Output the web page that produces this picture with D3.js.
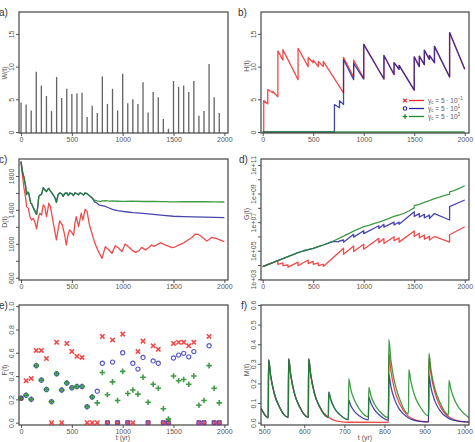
<!DOCTYPE html>
<html>
<head>
<meta charset="utf-8">
<script src="https://cdnjs.cloudflare.com/ajax/libs/d3/7.8.5/d3.min.js"></script>
<style>
	body { margin: 0; background: #fff; }
	svg { font-family: "Liberation Sans", Arial, sans-serif; }
</style>
</head>
<body>
<svg id="chart" width="475" height="442"></svg>
<script>
// event times (yr)
var times = [0,50,100,150,200,250,300,350,400,450,500,550,600,650,700,750,800,850,900,950,
	1000,1050,1100,1150,1200,1250,1300,1350,1400,1450,1500,1550,1600,1650,1700,1750,1800,1850,1900,1950];

// a) W(t)
var wValues = [4.5,4.2,3.3,9.2,7.1,5.5,3.2,8.4,5.2,6.6,5.8,5.9,6.0,2.3,4.0,2.9,8.5,4.3,6.6,3.3,
	8.9,4.4,5.0,4.3,7.6,3.0,6.1,5.3,2.0,0.5,7.8,6.9,7.1,6.1,7.8,2.5,3.2,10.4,5.3,2.9];

// b) H(t)
var hRed = [[0,0],[10,0],[10,4.8],[50,4.3],[50,6.5],[100,6.0],[100,6.2],[150,5.4],[150,12.4],[200,11.0],[200,12.6],
	[350,8.0],[350,12.8],[450,10.0],[450,11.4],[500,10.6],[500,11.0],[550,10.0],[550,10.8],[600,10.0],[600,10.8],
	[800,6.0],[800,11.4],[900,8.4],[900,11.0],[1000,8.2],[1000,13.4],[1200,8.1],[1200,11.7],[1300,8.8],[1300,10.6],
	[1350,9.6],[1350,10.2],[1500,6.4],[1500,11.5],[1550,10.0],[1550,11.6],[1600,10.3],[1600,12.5],[1650,11.1],
	[1650,11.7],[1700,10.6],[1700,13.1],[1850,8.4],[1850,15.2],[2000,9.6]];
var hBlue = [[0,0],[710,0],[710,4.2],[760,3.7],[760,4.8],[800,4.2],[800,11.1],[900,8.0],[900,10.5],[1000,8.1],
	[1000,13.4],[1200,8.1],[1200,11.7],[1300,8.8],[1300,10.6],[1350,9.6],[1350,10.2],[1500,6.4],[1500,11.5],
	[1550,10.0],[1550,11.6],[1600,10.3],[1600,12.5],[1650,11.1],[1650,11.7],[1700,10.6],[1700,13.1],[1850,8.4],
	[1850,15.2],[2000,9.6]];
var hGreen = [[0,0],[2000,0]];

// c) D(t)
var dRed = [[0,1969],[13,1812],[29,1655],[46,1536],[55,1438],[72,1418],[88,1320],[104,1280],[120,1300],[137,1253],
	[153,1175],[169,1300],[185,1360],[202,1340],[218,1458],[234,1438],[250,1320],[260,1380],[273,1478],[289,1438],
	[315,1261],[348,1045],[364,1163],[380,1270],[406,1222],[429,1104],[445,986],[462,1104],[478,1163],[494,1143],
	[517,1100],[530,1238],[543,1320],[566,1202],[592,1360],[608,1280],[631,1407],[650,1380],[673,1222],[722,1025],
	[754,926],[797,828],[829,966],[862,930],[894,887],[927,978],[959,950],[992,907],[1024,997],[1063,960],
	[1096,920],[1128,899],[1161,920],[1187,958],[1210,940],[1226,927],[1259,960],[1285,986],[1307,970],[1340,990],
	[1372,1013],[1421,985],[1454,970],[1486,954],[1519,965],[1551,985],[1600,1010],[1649,1050],[1681,1075],
	[1714,1115],[1746,1110],[1779,1080],[1828,1033],[1850,1050],[1876,1076],[1925,1060],[1967,1040],[2000,1025]];
var dGreen = [[0,1969],[10,1880],[20,1820],[30,1780],[45,1680],[55,1580],[65,1610],[75,1600],[85,1540],[95,1480],
	[105,1470],[115,1440],[130,1400],[153,1345],[165,1440],[175,1560],[185,1575],[200,1580],[210,1620],[218,1662],
	[232,1640],[250,1615],[262,1640],[273,1654],[290,1620],[315,1580],[335,1540],[348,1490],[364,1576],[380,1600],
	[400,1590],[415,1560],[430,1595],[450,1600],[465,1570],[480,1600],[500,1590],[515,1570],[530,1600],[550,1590],
	[565,1578],[580,1600],[600,1590],[615,1575],[630,1600],[650,1590],[670,1570],[700,1540],[722,1515],[750,1505],
	[780,1497],[800,1505],[830,1510],[870,1504],[900,1505],[950,1502],[1000,1500],[1100,1503],[1200,1499],
	[1300,1500],[1400,1498],[1500,1495],[1600,1497],[1700,1496],[1800,1496],[1900,1495],[2000,1493]];
var dBlue = [[0,1969],[10,1880],[20,1820],[30,1780],[45,1680],[55,1580],[65,1610],[75,1600],[85,1540],[95,1480],
	[105,1470],[115,1440],[130,1400],[153,1345],[165,1440],[175,1560],[185,1575],[200,1580],[210,1620],[218,1662],
	[232,1640],[250,1615],[262,1640],[273,1654],[290,1620],[315,1580],[335,1540],[348,1490],[364,1576],[380,1600],
	[400,1590],[415,1560],[430,1595],[450,1600],[465,1570],[480,1600],[500,1590],[515,1570],[530,1600],[550,1590],
	[565,1578],[580,1600],[600,1590],[615,1575],[630,1600],[650,1590],[670,1570],[700,1540],[722,1497],[750,1478],
	[770,1455],[797,1450],[830,1440],[860,1425],[900,1405],[950,1390],[1000,1382],[1050,1375],[1100,1368],
	[1200,1358],[1300,1348],[1400,1336],[1500,1325],[1600,1321],[1700,1317],[1800,1314],[1900,1311],[2000,1308]];

// d) G(t), log10 values
var gRed = [[0,3.89],[50,4.02],[100,4.17],[150,4.3],[150,4.05],[200,4.15],[200,3.95],[250,4.0],[250,3.85],
	[350,4.2],[350,3.95],[450,4.35],[450,4.1],[500,4.25],[500,4.05],[550,4.15],[550,3.95],[600,4.05],[600,3.9],
	[800,5.17],[800,4.75],[900,5.33],[900,4.95],[1000,5.45],[1000,5.1],[1150,5.87],[1150,5.55],[1200,5.85],
	[1200,5.5],[1300,5.98],[1300,5.7],[1350,5.9],[1350,5.6],[1500,6.38],[1500,6.0],[1550,6.22],[1550,5.9],
	[1600,6.1],[1600,5.8],[1650,6.0],[1650,5.75],[1700,6.0],[1850,5.6],[1850,6.12],[2000,6.68]];
var gBlue = [[0,3.89],[50,4.02],[100,4.17],[150,4.3],[200,4.45],[250,4.58],[300,4.73],[350,4.86],[400,4.98],
	[450,5.07],[500,5.17],[550,5.28],[600,5.4],[650,5.53],[700,5.65],[750,5.62],[760,5.68],[800,5.75],[800,5.6],
	[900,6.15],[900,5.95],[1000,6.4],[1000,6.2],[1150,6.75],[1150,6.55],[1200,6.85],[1200,6.65],[1300,7.0],
	[1300,6.8],[1350,7.0],[1350,6.85],[1500,7.73],[1500,7.4],[1550,7.6],[1550,7.35],[1600,7.55],[1600,7.3],
	[1650,7.5],[1650,7.25],[1700,7.6],[1850,7.15],[1850,8.08],[2000,8.55]];
var gGreen = [[0,3.89],[50,4.02],[100,4.17],[150,4.3],[200,4.45],[250,4.58],[300,4.73],[350,4.86],[400,4.98],
	[450,5.07],[500,5.17],[550,5.28],[600,5.4],[650,5.53],[700,5.68],[750,5.85],[800,6.02],[850,6.2],[900,6.37],
	[950,6.53],[1000,6.68],[1050,6.78],[1100,6.9],[1150,7.0],[1200,7.13],[1250,7.26],[1300,7.4],[1350,7.5],
	[1400,7.62],[1450,7.8],[1500,8.0],[1500,8.15],[1550,8.25],[1600,8.38],[1650,8.5],[1700,8.65],[1750,8.75],
	[1800,8.88],[1850,8.95],[1850,9.12],[1900,9.22],[1950,9.38],[2000,9.55]];

// e) F(t) at event times
var fRed = [0.21,0.36,0.38,0.62,0.62,0.55,0,0.69,0,0.68,0.61,0.57,0.56,0,0,0,0.74,0,0.71,0,
	0.76,0,0,0.61,0.70,0,0.66,0.63,0,0,0.68,0.69,0.69,0.66,0.69,0,0,0.74,0,0];
var fBlue = [0.21,0.235,0.20,0.49,0.365,0.285,0.18,0.42,0.28,0.34,0.30,0.31,0.31,0.137,0.22,0.27,0.51,0,0.52,0,
	0.60,0,0.51,0.46,0.56,0,0.53,0.51,0,0,0.555,0.58,0.595,0.565,0.61,0,0,0.66,0,0];
var fGreen = [0.21,0.235,0.20,0.49,0.365,0.285,0.18,0.42,0.28,0.34,0.30,0.31,0.31,0.137,0.22,0.17,0.43,0.24,0.35,0.19,
	0.44,0.25,0.28,0.245,0.39,0.175,0.33,0.295,0.12,0.03,0.40,0.36,0.37,0.33,0.40,0.15,0.19,0.49,0.295,0.17];

// f) M(t), 500-1000 yr
var mRed = [[492,0.073],[510,0.025],[511,0.32],[516,0.24],[525,0.15],[538,0.08],[560,0.027],[561,0.325],[566,0.245],
	[575,0.152],[588,0.082],[610,0.027],[611,0.325],[616,0.245],[625,0.152],[638,0.082],[660,0.027],[675,0.012],
	[690,0.005],[710,0.002],[810,0.001],[811,0.35],[816,0.265],[825,0.17],[838,0.095],[860,0.032],[875,0.015],
	[888,0.008],[910,0.004],[911,0.33],[916,0.25],[925,0.16],[938,0.088],[960,0.03],[975,0.014],[988,0.007],[1011,0.003]];
var mBlue = [[492,0.073],[510,0.025],[511,0.32],[516,0.24],[525,0.15],[538,0.08],[560,0.027],[561,0.325],[566,0.245],
	[575,0.152],[588,0.082],[610,0.027],[611,0.325],[616,0.245],[625,0.152],[638,0.082],[660,0.027],[661,0.155],
	[666,0.118],[675,0.075],[688,0.042],[710,0.015],[711,0.115],[716,0.087],[725,0.058],[738,0.034],[760,0.014],
	[761,0.13],[766,0.1],[775,0.066],[788,0.038],[810,0.013],[811,0.245],[816,0.185],[825,0.12],[838,0.066],
	[860,0.024],[875,0.012],[888,0.007],[910,0.004],[911,0.24],[916,0.18],[925,0.115],[938,0.063],[960,0.022],
	[975,0.011],[988,0.006],[1011,0.003]];
var mGreen = [[492,0.073],[510,0.025],[511,0.32],[516,0.24],[525,0.15],[538,0.08],[560,0.027],[561,0.325],[566,0.245],
	[575,0.152],[588,0.082],[610,0.027],[611,0.325],[616,0.245],[625,0.152],[638,0.082],[660,0.027],[661,0.155],
	[666,0.118],[675,0.075],[688,0.042],[710,0.015],[711,0.225],[716,0.17],[725,0.115],[738,0.068],[760,0.03],
	[761,0.18],[766,0.14],[775,0.095],[788,0.058],[810,0.025],[811,0.425],[816,0.32],[825,0.21],[838,0.12],
	[860,0.045],[861,0.27],[866,0.21],[875,0.14],[888,0.085],[910,0.035],[911,0.355],[916,0.27],[925,0.18],
	[938,0.105],[960,0.04],[961,0.215],[966,0.17],[975,0.115],[988,0.07],[1011,0.025]];

var legendExp = ["\u22121", "1", "3"];
var red = "#ee2a2a", blue = "#2626a0", green = "#1f8a26";

var svg = d3.select("#chart");

function makePanel(o) {
	var g = svg.append("g").attr("transform", "translate(" + o.left + "," + o.top + ")");
	var x = d3.scaleLinear().domain(o.xDomain).range([0, o.width]);
	var y = (o.log ? d3.scaleLog() : d3.scaleLinear()).domain(o.yDomain).range([o.height, 0]);

	g.append("clipPath").attr("id", "clip-" + o.name)
		.append("rect").attr("width", o.width).attr("height", o.height);

	var xa = g.append("g")
		.attr("transform", "translate(0," + o.height + ")")
		.call(d3.axisBottom(x).tickValues(o.xTicks).tickSize(3).tickPadding(1.5).tickFormat(d3.format("d")));
	var ya = g.append("g")
		.call(d3.axisLeft(y).tickValues(o.yTicks).tickSize(3).tickFormat(o.yFormat));
	ya.selectAll(".tick text")
		.attr("transform", "rotate(-90)")
		.attr("x", 0).attr("y", -5).attr("dy", 0)
		.attr("text-anchor", "middle");
	[xa, ya].forEach(function(a) {
		a.attr("font-size", 7).attr("font-family", null).attr("color", "#555");
		a.select(".domain").remove();
	});

	var plot = g.append("g").attr("clip-path", "url(#clip-" + o.name + ")");

	g.append("rect")
		.attr("width", o.width).attr("height", o.height)
		.attr("fill", "none").attr("stroke", "#444").attr("stroke-width", 1.2);

	svg.append("text")
		.attr("x", o.labelX).attr("y", o.top + 4)
		.attr("font-size", 10).attr("fill", "#333")
		.text(o.name + ")");

	svg.append("text")
		.attr("transform", "translate(" + o.titleX + "," + o.titleY + ") rotate(-90)")
		.attr("text-anchor", "middle").attr("font-size", 7).attr("fill", "#555")
		.text(o.title);

	return {g: g, plot: plot, x: x, y: y};
}

function drawLine(p, data, color, curve, logY) {
	var line = d3.line()
		.x(function(d) { return p.x(d[0]); })
		.y(function(d) { return p.y(logY ? Math.pow(10, d[1]) : d[1]); })
		.curve(curve || d3.curveLinear);
	p.plot.append("path")
		.datum(data)
		.attr("d", line)
		.attr("fill", "none")
		.attr("stroke", color)
		.attr("stroke-opacity", 0.85)
		.attr("stroke-width", 1.3)
		.attr("stroke-linejoin", "round");
}

var tTicks = [0, 500, 1000, 1500, 2000];
var fmt1 = d3.format(".1f");

// a)
var pa = makePanel({name: "a", left: 19, top: 12, width: 209, height: 121,
	xDomain: [-20, 2036], yDomain: [-0.15, 18.35], xTicks: tTicks, yTicks: [0, 5, 10, 15],
	yFormat: d3.format("d"), labelX: -1, title: "W(t)", titleX: 7, titleY: 73});
pa.plot.selectAll("line.bar")
	.data(times)
	.join("line")
	.attr("class", "bar")
	.attr("x1", function(d) { return pa.x(d); })
	.attr("x2", function(d) { return pa.x(d); })
	.attr("y1", 121)
	.attr("y2", function(d, i) { return pa.y(wValues[i]); })
	.attr("stroke", "#626262")
	.attr("stroke-width", 1.3);

// b)
var pb = makePanel({name: "b", left: 261, top: 12, width: 208, height: 121,
	xDomain: [-17, 2042], yDomain: [-0.15, 18.35], xTicks: tTicks, yTicks: [0, 5, 10, 15],
	yFormat: d3.format("d"), labelX: 238, title: "H(t)", titleX: 249, titleY: 66});
drawLine(pb, hRed, red);
drawLine(pb, hBlue, blue);
drawLine(pb, hGreen, green);

var legend = pb.g.append("g").attr("transform", "translate(144,88.5)");
[red, blue, green].forEach(function(c, i) {
	var row = legend.append("g").attr("transform", "translate(0," + (i * 8) + ")");
	if (i === 0) row.append("path").attr("d", "M-1.8,-1.8L1.8,1.8M-1.8,1.8L1.8,-1.8").attr("stroke", c).attr("stroke-width", 1.3);
	if (i === 1) row.append("circle").attr("r", 1.8).attr("fill", "none").attr("stroke", c).attr("stroke-width", 1.1);
	if (i === 2) row.append("path").attr("d", "M-2.3,0H2.3M0,-2.3V2.3").attr("stroke", c).attr("stroke-width", 1.3);
	row.append("line").attr("x1", 4).attr("x2", 19).attr("stroke", c).attr("stroke-width", 1.3);
	var t = row.append("text").attr("x", 23).attr("y", 2.3).attr("font-size", 6.5).attr("fill", "#555");
	t.append("tspan").text("\u03b3");
	t.append("tspan").attr("font-size", 4.5).attr("dy", 1.5).text("c");
	t.append("tspan").attr("dy", -1.5).text(" = 5 \u00b7 10");
	t.append("tspan").attr("font-size", 4.5).attr("dy", -2.5).text(legendExp[i]);
});

// c)
var pc = makePanel({name: "c", left: 19, top: 159, width: 209, height: 121,
	xDomain: [-20, 2036], yDomain: [573, 2000], xTicks: tTicks,
	yTicks: [600, 800, 1000, 1200, 1400, 1600, 1800],
	yFormat: function(d) { return (d - 600) % 400 === 0 ? d : ""; },
	labelX: -1, title: "D(t)", titleX: 7, titleY: 222});
drawLine(pc, dRed, red);
drawLine(pc, dBlue, blue);
drawLine(pc, dGreen, green);

// d)
var pd = makePanel({name: "d", left: 261, top: 159, width: 208, height: 121,
	xDomain: [-17, 2042], yDomain: [Math.pow(10, 2.95), Math.pow(10, 11.42)], log: true, xTicks: tTicks,
	yTicks: [1e3, 1e4, 1e5, 1e6, 1e7, 1e8, 1e9, 1e10, 1e11],
	yFormat: function(d) {
		var e = Math.round(Math.log10(d));
		return e % 2 === 1 ? "1e+" + (e < 10 ? "0" + e : e) : "";
	},
	labelX: 239, title: "G(t)", titleX: 249, titleY: 214});
drawLine(pd, gRed, red, null, true);
drawLine(pd, gBlue, blue, null, true);
drawLine(pd, gGreen, green, null, true);

// e)
var pe = makePanel({name: "e", left: 19, top: 305, width: 209, height: 120,
	xDomain: [-20, 2036], yDomain: [-0.02, 1.01], xTicks: tTicks,
	yTicks: [0, 0.2, 0.4, 0.6, 0.8, 1], yFormat: fmt1,
	labelX: -1, title: "F(t)", titleX: 7, titleY: 370});
var marks = [
	{vals: fRed, color: red, shape: "M-2.2,-2.2L2.2,2.2M-2.2,2.2L2.2,-2.2"},
	{vals: fBlue, color: blue, shape: null},
	{vals: fGreen, color: green, shape: "M-2.8,0H2.8M0,-2.8V2.8"}
];
marks.forEach(function(m) {
	var sel = pe.g.append("g").selectAll("g")
		.data(times)
		.join("g")
		.attr("transform", function(d, i) { return "translate(" + pe.x(d) + "," + pe.y(m.vals[i]) + ")"; });
	if (m.shape) {
		sel.append("path").attr("d", m.shape).attr("stroke", m.color).attr("stroke-width", 1.6).attr("stroke-opacity", 0.85);
	} else {
		sel.append("circle").attr("r", 2.1).attr("fill", "none").attr("stroke", "#3c3cc0").attr("stroke-width", 1.2).attr("stroke-opacity", 0.85);
	}
});
svg.append("text").attr("x", 123).attr("y", 440).attr("text-anchor", "middle")
	.attr("font-size", 7).attr("fill", "#555").text("t (yr)");

// f)
var pf = makePanel({name: "f", left: 261, top: 305, width: 208, height: 120,
	xDomain: [492, 1011], yDomain: [-0.012, 0.6], xTicks: [500, 600, 700, 800, 900, 1000],
	yTicks: [0, 0.1, 0.2, 0.3, 0.4, 0.5, 0.6], yFormat: fmt1,
	labelX: 241, title: "M(t)", titleX: 249, titleY: 370});
drawLine(pf, mRed, red, d3.curveMonotoneX);
drawLine(pf, mBlue, blue, d3.curveMonotoneX);
drawLine(pf, mGreen, green, d3.curveMonotoneX);
svg.append("text").attr("x", 365).attr("y", 440).attr("text-anchor", "middle")
	.attr("font-size", 7).attr("fill", "#555").text("t (yr)");
</script>
</body>
</html>
